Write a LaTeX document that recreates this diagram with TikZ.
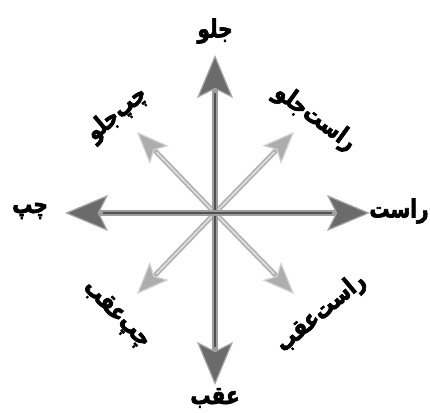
\documentclass[tikz,border=0pt]{standalone}
\usepackage{fontspec}
\newfontfamily\fa[Script=Arabic,FakeBold=2.5,FakeStretch=0.8]{DejaVu Sans Bold}
\TeXXeTstate=1
\usetikzlibrary{arrows.meta}
\begin{document}
\begin{tikzpicture}[x=1pt,y=-1pt,
  mainshaft/.style={line width=6pt, draw=black!38,
    -{Stealth[length=43pt,width=36pt,inset=9pt,fill=black!58,color=black!35,line width=1.2pt]}},
  maincore/.style={line width=2pt, draw=black!68, shorten >=38pt},
  diagshaft/.style={line width=5pt, draw=black!30,
    -{Stealth[length=32pt,width=26pt,inset=7pt,fill=black!32,color=black!18,line width=1.2pt]}},
  diagcore/.style={line width=1.5pt, draw=black!12, shorten >=28pt},
  lbl/.style={font=\fa\fontsize{25}{30}\selectfont, inner sep=0pt}]
\useasboundingbox (0,0) rectangle (430,412);
\fill[white] (0,0) rectangle (430,412);
\coordinate (c) at (215,213);
\coordinate (n) at (215,55);
\coordinate (s) at (215,385);
\coordinate (w) at (65,213);
\coordinate (e) at (370,213);
\coordinate (nw) at (137,132);
\coordinate (ne) at (294,132);
\coordinate (sw) at (137,294);
\coordinate (se) at (294,294);
% diagonal arrows
\foreach \t in {nw,ne,sw,se}{
  \draw[diagshaft] (c) -- (\t);
  \draw[diagcore] (c) -- (\t);
}
% main arrows
\foreach \t in {n,s,w,e}{
  \draw[mainshaft] (c) -- (\t);
  \draw[maincore] (c) -- (\t);
}
% labels
\node[lbl] (ln) at (215,31) {\beginR جلو\endR};
\node[lbl] (ls) at (215,398) {\beginR عقب\endR};
\node[lbl] (lw) at (30,211) {\beginR چپ\endR};
\node[lbl] (le) at (399,211) {\beginR راست\endR};
\node[lbl, rotate=40] (lnw) at (117,114) {\beginR چپ‌جلو\endR};
\node[lbl, rotate=-36] (lne) at (315,118) {\beginR راست‌جلو\endR};
\node[lbl, rotate=-45] (lsw) at (116,315) {\beginR چپ‌عقب\endR};
\node[lbl, rotate=40] (lse) at (321,313) {\beginR راست‌عقب\endR};
\end{tikzpicture}
\end{document}
